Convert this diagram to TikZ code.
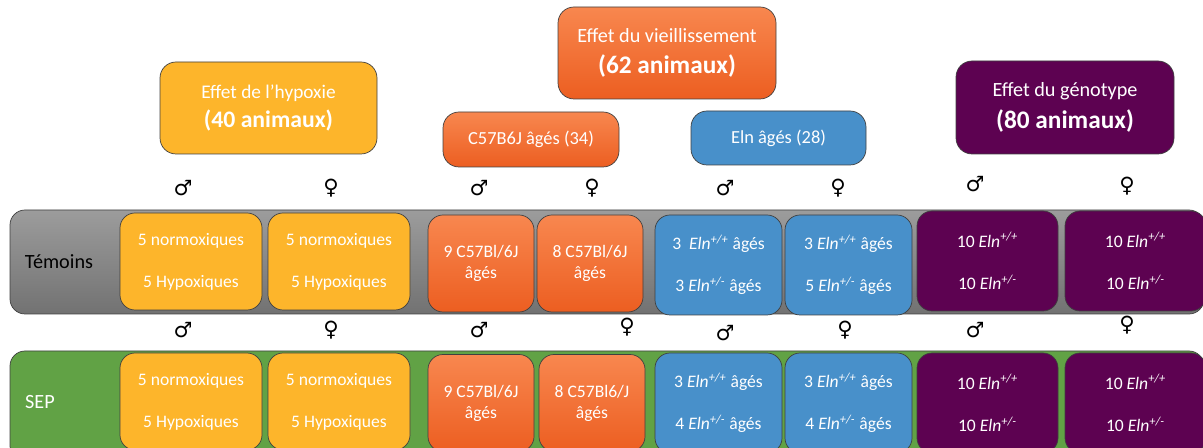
\documentclass[tikz,border=0pt]{standalone}
\usepackage{fontspec}
\setmainfont{Carlito}
\newfontfamily\symfont{DejaVu Sans}
\usetikzlibrary{positioning}
\definecolor{amber}{HTML}{FDB52B}
\definecolor{orangetop}{HTML}{F8874F}
\definecolor{orangebot}{HTML}{EC5E21}
\definecolor{elnblue}{HTML}{4890CA}
\definecolor{plum}{HTML}{5D0251}
\definecolor{bandtop}{HTML}{9C9C9C}
\definecolor{bandbot}{HTML}{727272}
\definecolor{sepgreen}{HTML}{61A245}
\definecolor{edge}{HTML}{404040}
\newcommand{\genot}[1]{\textit{Eln}\textsuperscript{\textit{#1}}}

\begin{document}
\begin{tikzpicture}[x=0.02cm, y=-0.02cm,
    sz/.style 2 args={minimum width=#1*0.02cm, minimum height=#2*0.02cm},
    box/.style={draw=edge, line width=0.4pt, rounded corners=3mm, inner sep=0pt,
                align=center, text=white, font=\fontsize{10}{12}\selectfont},
    title/.style={box, rounded corners=3.2mm},
    orangebox/.style={top color=orangetop, bottom color=orangebot},
    band/.style={draw=edge, line width=0.4pt, rounded corners=3mm, inner sep=0pt},
    sex/.style={font=\symfont\fontsize{12}{14}\selectfont}]
  \useasboundingbox (0,0) rectangle (1203,448);
  \clip (0,0) rectangle (1203,448);

  % Titles
  \node[title, fill=amber, sz={217}{92}] (hypoxie) at (268.5,108)
    {\fontsize{11}{15}\selectfont Effet de l’hypoxie\\[5pt]
     \fontsize{13.5}{15}\selectfont\bfseries (40 animaux)};
  \node[title, orangebox, sz={218}{92}] (vieil) at (667,53)
    {\fontsize{11.5}{15}\selectfont Effet du vieillissement\\[6pt]
     \fontsize{14.4}{16}\selectfont\bfseries (62 animaux)};
  \node[title, orangebox, sz={176}{55}, font=\fontsize{10.5}{12}\selectfont] (c57) at (531,139.5) {C57B6J âgés (34)};
  \node[title, fill=elnblue, sz={175}{54}, font=\fontsize{10.5}{12}\selectfont] (elnold) at (778.5,138) {Eln âgés (28)};
  \node[title, fill=plum, sz={218}{93}] (genotype) at (1065,107.5)
    {\fontsize{11.5}{15}\selectfont Effet du génotype\\[5pt]
     \fontsize{14.4}{16}\selectfont\bfseries (80 animaux)};

  % Sex symbols above the rows
  \node[sex] (ma1) at (183,188) {♂};
  \node[sex] (fa1) at (331,188) {♀};
  \node[sex] (ma2) at (479,188) {♂};
  \node[sex] (fa2) at (592,188) {♀};
  \node[sex] (ma3) at (725,188) {♂};
  \node[sex] (fa3) at (838,188) {♀};
  \node[sex] (ma4) at (975,184) {♂};
  \node[sex] (fa4) at (1127,186) {♀};

  \node[sex] (mb1) at (183,330) {♂};
  \node[sex] (fb1) at (331,330) {♀};
  \node[sex] (mb2) at (479,330) {♂};
  \node[sex] (fb2) at (627,327) {♀};
  \node[sex] (mb3) at (725,333) {♂};
  \node[sex] (fb3) at (845,330) {♀};
  \node[sex] (mb4) at (975,330) {♂};
  \node[sex] (fb4) at (1127,325) {♀};

  % Témoins row
  \node[band, top color=bandtop, bottom color=bandbot, sz={1194}{104}] (temoinsband) at (607,262) {};
  \node[font=\fontsize{11.5}{14}\selectfont] (temoins) at (59,262) {Témoins};
  \node[box, fill=amber, sz={142}{97}] (ta1) at (191,261.5) {5 normoxiques\\[12pt]5 Hypoxiques};
  \node[box, fill=amber, sz={142}{97}] (ta2) at (339,261.5) {5 normoxiques\\[12pt]5 Hypoxiques};
  \node[box, orangebox, sz={106}{97}] (tb1) at (481,263.5) {9 C57Bl/6J\\âgés};
  \node[box, orangebox, sz={106}{97}] (tb2) at (590,263.5) {8 C57Bl/6J\\âgés};
  \node[box, fill=elnblue, sz={127}{100}] (tc1) at (718.5,265) {3~~\genot{+/+} âgés\\[12pt]3 \genot{+/-} âgés};
  \node[box, fill=elnblue, sz={127}{100}] (tc2) at (848.5,265) {3 \genot{+/+} âgés\\[12pt]5 \genot{+/-} âgés};
  \node[box, fill=plum, sz={141}{100}] (td1) at (987.5,261) {10 \genot{+/+}\\[12pt]10 \genot{+/-}};
  \node[box, fill=plum, sz={141}{100}] (td2) at (1135.5,261) {10 \genot{+/+}\\[12pt]10 \genot{+/-}};

  % SEP row
  \node[band, fill=sepgreen, sz={1194}{110}] (sepband) at (607,406) {};
  \node[font=\fontsize{11.5}{14}\selectfont, text=white] (sep) at (40,402) {SEP};
  \node[box, fill=amber, sz={142}{97}] (sa1) at (191,401.5) {5 normoxiques\\[12pt]5 Hypoxiques};
  \node[box, fill=amber, sz={142}{97}] (sa2) at (339,401.5) {5 normoxiques\\[12pt]5 Hypoxiques};
  \node[box, orangebox, sz={106}{97}] (sb1) at (481,403) {9 C57Bl/6J\\âgés};
  \node[box, orangebox, sz={106}{97}] (sb2) at (592,403) {8 C57Bl6/J\\âgés};
  \node[box, fill=elnblue, sz={127}{100}] (sc1) at (718.5,403) {3 \genot{+/+} âgés\\[12pt]4 \genot{+/-} âgés};
  \node[box, fill=elnblue, sz={127}{100}] (sc2) at (848.5,403) {3 \genot{+/+} âgés\\[12pt]4 \genot{+/-} âgés};
  \node[box, fill=plum, sz={141}{100}] (sd1) at (987.5,403) {10 \genot{+/+}\\[12pt]10 \genot{+/-}};
  \node[box, fill=plum, sz={141}{100}] (sd2) at (1135.5,403) {10 \genot{+/+}\\[12pt]10 \genot{+/-}};
\end{tikzpicture}
\end{document}
